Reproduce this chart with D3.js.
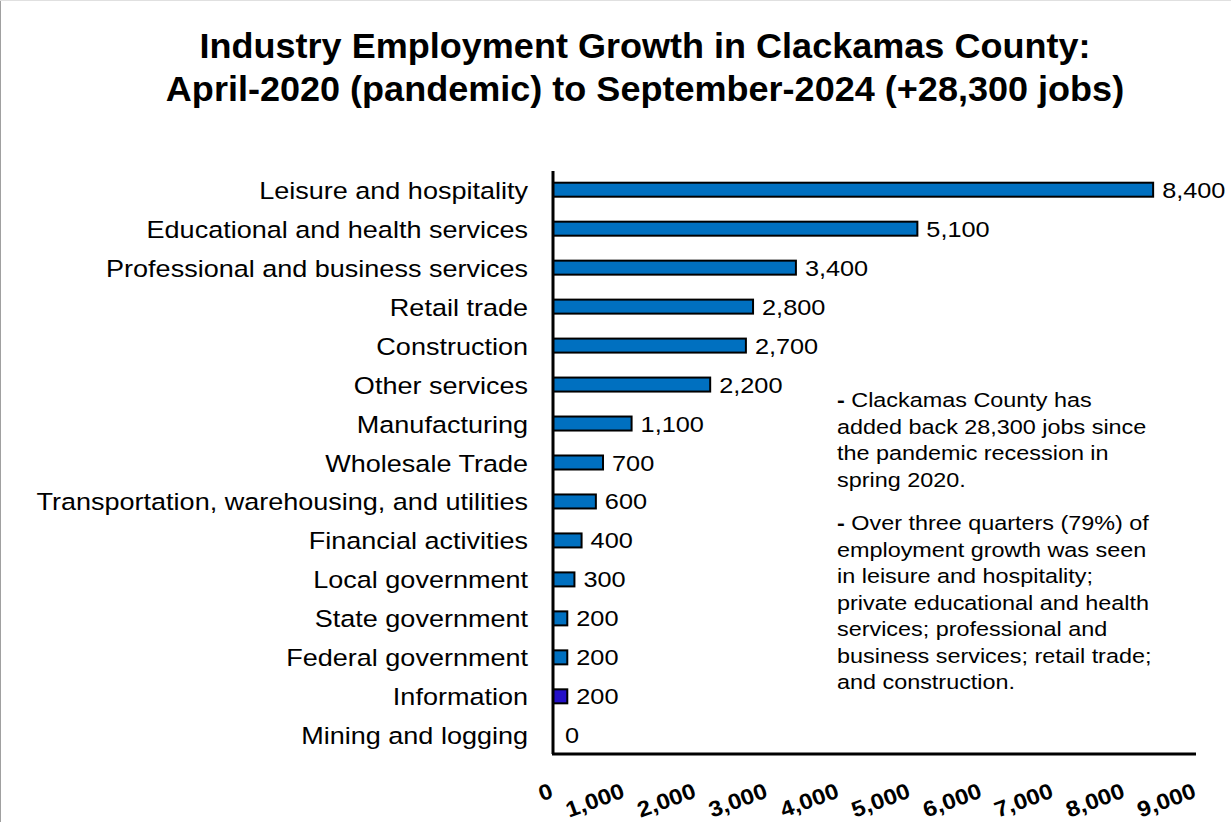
<!DOCTYPE html>
<html><head><meta charset="utf-8">
<script src="https://cdn.jsdelivr.net/npm/d3@7"></script>
<style>body{margin:0;background:#fff;}svg{display:block;font-family:Arial,"Liberation Sans",sans-serif;}</style>
</head><body>
<svg id="c" width="1231" height="822"></svg>
<script>
const categories = ["Leisure and hospitality","Educational and health services","Professional and business services","Retail trade","Construction","Other services","Manufacturing","Wholesale Trade","Transportation, warehousing, and utilities","Financial activities","Local government","State government","Federal government","Information","Mining and logging"];
const values = [8400,5100,3400,2800,2700,2200,1100,700,600,400,300,200,200,200,0];
const barColors = ["#0070C0","#0070C0","#0070C0","#0070C0","#0070C0","#0070C0","#0070C0","#0070C0","#0070C0","#0070C0","#0070C0","#0070C0","#0070C0","#2410C8","#0070C0"];
const tickValues = [0,1000,2000,3000,4000,5000,6000,7000,8000,9000];
const titleLines = ["Industry Employment Growth in Clackamas County:","April-2020 (pandemic) to September-2024 (+28,300 jobs)"];
const notes = [["- Clackamas County has","added back 28,300 jobs since","the pandemic recession in","spring 2020."],["- Over three quarters (79%) of","employment growth was seen","in leisure and hospitality;","private educational and health","services; professional and","business services; retail trade;","and construction."]];

const svg = d3.select("#c");
svg.append("line").attr("x1",0.5).attr("x2",0.5).attr("y1",0).attr("y2",822).attr("stroke","#a0a0a0").attr("stroke-width",1);
svg.append("line").attr("x1",0).attr("x2",1231).attr("y1",0.5).attr("y2",0.5).attr("stroke","#e0e0e0").attr("stroke-width",1);

svg.selectAll("text.title").data(titleLines).enter().append("text")
  .attr("transform",(d,i)=>`translate(645,${58+i*43}) scale(1.03,1)`).attr("text-anchor","middle")
  .attr("font-size",35).attr("font-weight","bold").attr("fill","#000").text(d=>d);

const x0 = 553, x1 = 1196, yTop = 171, yBot = 754;
const x = d3.scaleLinear().domain([0,9000]).range([x0,x1]);
const y = d3.scaleBand().domain(categories).range([yTop, yBot]).paddingInner(0.64).paddingOuter(0.3);

const g = svg.append("g");
g.selectAll("rect.bar").data(values).enter().append("rect")
  .attr("x",x(0)).attr("y",(d,i)=>y(categories[i]) + y.bandwidth()/2 - 7)
  .attr("width",d=>Math.max(0,x(d)-x(0))).attr("height",14)
  .attr("fill",(d,i)=>barColors[i]).attr("stroke","#000").attr("stroke-width",d=>d>0?2:0);

g.selectAll("text.val").data(values).enter().append("text")
  .attr("transform",(d,i)=>`translate(${x(d)+(d>0?9:12)},${y(categories[i]) + y.bandwidth()/2 + 8}) scale(1.15,1)`)
  .attr("font-size",22).attr("fill","#000").text(d=>d3.format(",")(d));

g.selectAll("text.cat").data(categories).enter().append("text")
  .attr("transform",d=>`translate(528,${y(d)+y.bandwidth()/2+9}) scale(1.15,1)`).attr("text-anchor","end")
  .attr("font-size",23.5).attr("fill","#000").text(d=>d);

// axes
const yAxis = d3.axisLeft(y).tickSize(0).tickFormat("");
svg.append("g").attr("transform",`translate(${x0},0)`).call(yAxis)
  .call(s=>s.select(".domain").attr("stroke","#000").attr("stroke-width",3).attr("d",`M0,${yTop}V${yBot}`));
const xAxis = d3.axisBottom(x).tickValues(tickValues).tickSize(0).tickFormat(d3.format(","));
const xa = svg.append("g").attr("transform",`translate(0,${yBot})`).call(xAxis);
xa.select(".domain").attr("stroke","#000").attr("stroke-width",3).attr("d",`M${x0-1},0H${x1}`);
xa.selectAll(".tick text").attr("font-size",22).attr("font-weight","bold").attr("fill","#000")
  .attr("font-family","Arial,'Liberation Sans',sans-serif")
  .attr("text-anchor","end").attr("dy",0).attr("y",0)
  .attr("transform","translate(1,43) rotate(-20) scale(1.1,1)");

// notes
const nt = svg.append("g");
const paraStart = [407, 530];
notes.forEach((para,pi)=>{
  para.forEach((line,li)=>{
    const yy = paraStart[pi] + li*26.5;
    const t = nt.append("text").attr("transform",`translate(837,${yy}) scale(1.2,1)`).attr("font-size",19.5).attr("fill","#000");
    if(li===0){ t.append("tspan").attr("font-weight","bold").text("-"); t.append("tspan").text(line.slice(1)); }
    else t.text(line);
  });
});
</script>
</body></html>
